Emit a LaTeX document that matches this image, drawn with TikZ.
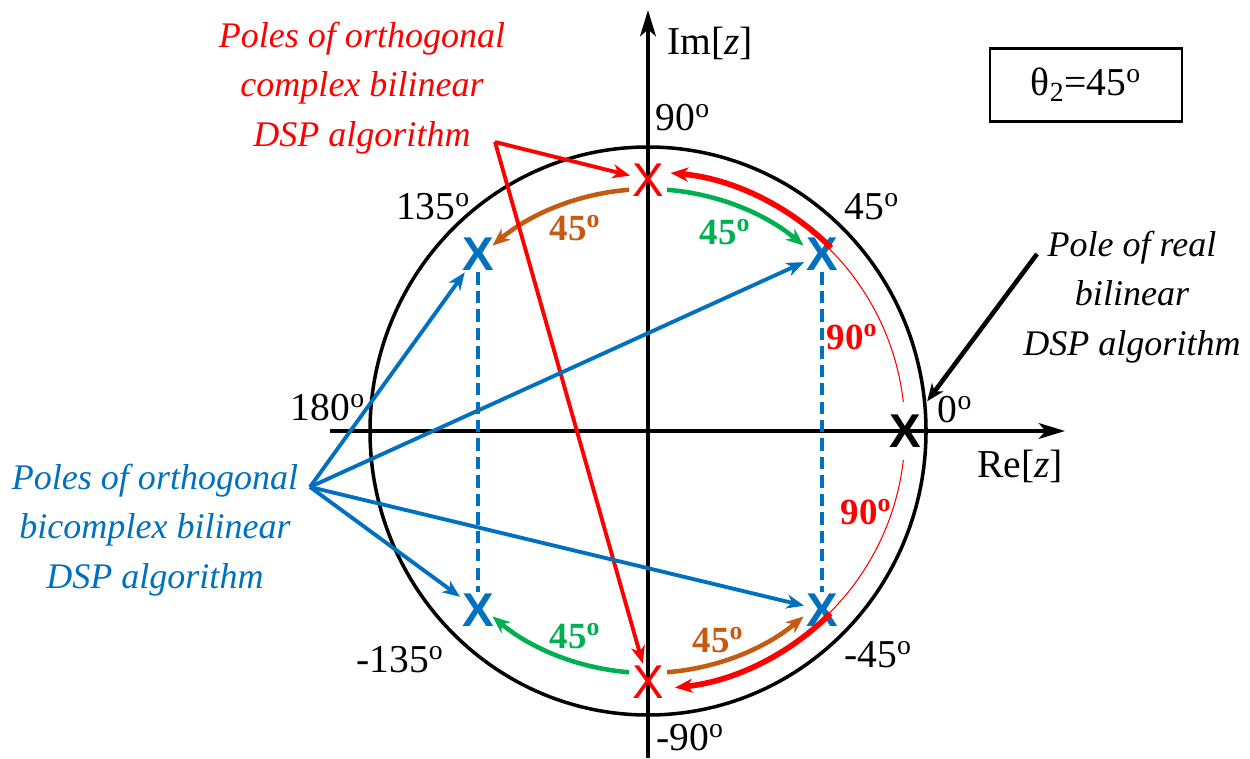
\documentclass[tikz,border=0pt]{standalone}
\usepackage{fontspec}
\setmainfont{Liberation Serif}
\newfontfamily\xfont{Liberation Sans}
\usetikzlibrary{arrows.meta,calc}
\definecolor{myred}{RGB}{255,0,0}
\definecolor{myblue}{RGB}{0,112,192}
\definecolor{mygreen}{RGB}{0,176,80}
\definecolor{myorange}{RGB}{197,90,17}
\newcommand{\dg}{\textsuperscript{o}}
\begin{document}
\begin{tikzpicture}[x=0.02cm,y=0.02cm,
  tip/.tip={Stealth[length=10pt,width=8pt,inset=3pt]},
  poleR/.style={text=myred,font=\xfont\fontsize{27}{28}\selectfont,inner sep=1pt},
  poleB/.style={text=myblue,font=\xfont\bfseries\fontsize{27}{28}\selectfont,inner sep=1pt},
  poleK/.style={text=black,font=\xfont\bfseries\fontsize{27}{28}\selectfont,inner sep=1pt},
  deg/.style={font=\fontsize{22.5}{24}\selectfont,inner sep=0pt},
  bdeg/.style={font=\bfseries\fontsize{21}{22}\selectfont,inner sep=0pt},
  lab/.style={font=\itshape\fontsize{20.5}{28.3}\selectfont,align=center,inner sep=0pt},
  conn/.style={line width=2.2pt,-tip},
  angarc/.style={line width=2.6pt,-tip},
]
\useasboundingbox (0,0) rectangle (1250,758);
\coordinate (C) at (648,327);
% circle and axes
\draw[line width=2pt] (C) ellipse [x radius=278, y radius=284];
\coordinate (xa) at (330,327);
\coordinate (xb) at (1065,327);
\coordinate (ya) at (648,0);
\coordinate (yb) at (648,748);
\draw[line width=2pt,-{Stealth[length=15pt,width=9pt,inset=4pt]}] (xa) -- (xb);
\draw[line width=2pt,-{Stealth[length=15pt,width=9pt,inset=4pt]}] (ya) -- (yb);
% poles
\node[poleR] (pT) at (648,578) {X};
\node[poleR] (pB) at (648,76) {X};
\node[poleB] (pUL) at (478,504) {X};
\node[poleB] (pUR) at (822,504) {X};
\node[poleB] (pLL) at (478,148) {X};
\node[poleB] (pLR) at (822,148) {X};
\node[poleK] (pR) at (905,327) {X};
% dashed verticals
\draw[myblue,line width=1.8pt,dash pattern=on 7pt off 3.5pt] (pUL) -- (pLL);
\draw[myblue,line width=1.8pt,dash pattern=on 7pt off 3.5pt] (pUR) -- (pLR);
% thin red arc
\draw[myred,line width=0.6pt] ($(C)+(45:257)$) arc[start angle=45,end angle=6.5,radius=257];
\draw[myred,line width=0.6pt] ($(C)+(-6.5:257)$) arc[start angle=-6.5,end angle=-45,radius=257];
% thick red arcs
\draw[myred,line width=3.2pt,-tip] ($(C)+(45:259)$) arc[start angle=45,end angle=85,radius=259];
\draw[myred,line width=3.2pt,-tip] ($(C)+(-45:258)$) arc[start angle=-45,end angle=-84,radius=258];
% green / orange arcs
\draw[mygreen,angarc] ($(C)+(85.5:242)$) arc[start angle=85.5,end angle=50,radius=242];
\draw[myorange,angarc] ($(C)+(94.5:242)$) arc[start angle=94.5,end angle=130,radius=242];
\draw[mygreen,angarc] ($(C)+(-94.5:242)$) arc[start angle=-94.5,end angle=-130,radius=242];
\draw[myorange,angarc] ($(C)+(-85.5:242)$) arc[start angle=-85.5,end angle=-50,radius=242];
% angle labels
\node[deg] (l90) at (683,640) {90\dg};
\node[deg] (l45) at (872,551) {45\dg};
\node[deg] (l135) at (433,551) {135\dg};
\node[deg] (l180) at (328,350) {180\dg};
\node[deg] (l0) at (955,348) {0\dg};
\node[deg] (lm45) at (878,103) {-45\dg};
\node[deg] (lm135) at (400,98) {-135\dg};
\node[deg] (lm90) at (690,20) {-90\dg};
\node[deg] (re) at (1020,292) {Re[\textit{z}]};
\node[deg] (im) at (710,715) {Im[\textit{z}]};
% bold colored labels
\node[bdeg,text=myorange] (o1) at (575,530) {45\dg};
\node[bdeg,text=mygreen] (g1) at (725,526) {45\dg};
\node[bdeg,text=myred] (r1) at (852,421) {90\dg};
\node[bdeg,text=myred] (r2) at (866,246) {90\dg};
\node[bdeg,text=mygreen] (g2) at (575,122) {45\dg};
\node[bdeg,text=myorange] (o2) at (718,118) {45\dg};
% box
\node[draw,line width=1.5pt,minimum width=109.4pt,minimum height=41.4pt,font=\fontsize{22.5}{24}\selectfont] (box) at (1086,673) {θ\textsubscript{2}=45\dg};
% text labels
\node[lab,text=myred] (tred) at (362,670) {Poles of orthogonal\\complex bilinear\\DSP algorithm};
\node[lab,text=myblue] (tblue) at (155,228) {Poles of orthogonal\\bicomplex bilinear\\DSP algorithm};
\node[lab,text=black] (tblack) at (1132,461) {Pole of real\\bilinear\\DSP algorithm};
% connectors
\coordinate (rc) at (495,616);
\coordinate (bc) at (310,271);
\coordinate (kc) at (1037,504);
\draw[myred,conn] (rc) -- (pT);
\draw[myred,conn] (rc) -- (pB);
\draw[myblue,conn] (bc) -- (pUL);
\draw[myblue,conn] (bc) -- (pUR);
\draw[myblue,conn] (bc) -- (pLL);
\draw[myblue,conn] (bc) -- (pLR);
\draw[black,line width=2.6pt,-tip,shorten >=8pt] (kc) -- (pR);
\end{tikzpicture}
\end{document}
